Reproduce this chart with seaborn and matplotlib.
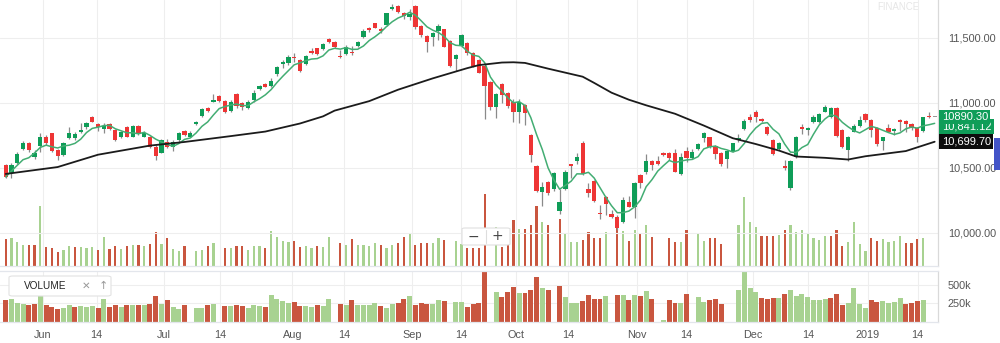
import numpy as np
import pandas as pd
import matplotlib
matplotlib.use("Agg")
import matplotlib.pyplot as plt
import seaborn as sns
from matplotlib.patches import Rectangle, FancyBboxPatch

# ---- daily OHLC (index points) ----
opens = [10521,10460,10536,10644,10690,10583,10667,10736,10767,10637,
 10598,10729,10729,10775,10813,10890,10836,10798,10836,10790,
 10736,10813,10736,10821,10736,10736,10660,10613,10698,10660,
 10713,10783,10736,10836,10898,10960,11006,11052,11016,10939,
 11067,10996,10957,11021,11103,11144,11129,11221,11298,11308,
 11354,11329,11296,11400,11419,11413,11490,11469,11362,11375,
 11392,11436,11503,11572,11611,11565,11598,11723,11744,11692,
 11662,11746,11590,11513,11508,11554,11565,11475,11336,11436,
 11462,11385,11329,11282,11162,10967,11142,11077,11008,10931,
 10983,10752,10513,10316,10393,10334,10170,10337,10527,10552,
 10688,10334,10400,10154,10277,10142,10124,10085,10239,10200,
 10444,10465,10554,10554,10616,10616,10611,10450,10631,10573,
 10644,10731,10734,10670,10611,10567,10623,10713,10798,10893,
 10931,10875,10816,10713,10642,10513,10342,10585,10811,10788,
 10854,10854,10931,10888,10957,10790,10637,10777,10823,10911,
 10867,10803,10706,10803,10785,10867,10862,10834,10803,10783,
 10900,10890.3]
highs = [10525,10536,10621,10706,10698,10637,10767,10752,10770,10644,
 10698,10813,10775,10844,10852,10895,10844,10844,10844,10795,
 10783,10821,10829,10829,10783,10744,10675,10721,10721,10713,
 10775,10790,10783,10860,10960,10967,11067,11059,11021,11021,
 11075,11006,11021,11098,11136,11149,11188,11282,11329,11367,
 11385,11334,11367,11423,11423,11462,11495,11475,11406,11444,
 11439,11477,11565,11580,11615,11585,11692,11757,11752,11700,
 11718,11752,11598,11521,11546,11603,11569,11482,11375,11526,
 11469,11392,11334,11290,11169,11075,11149,11085,11026,11026,
 10990,10760,10521,10393,10400,10470,10334,10483,10529,10611,
 10708,10380,10406,10214,10283,10175,10137,10277,10283,10393,
 10452,10603,10560,10593,10623,10623,10642,10611,10657,10644,
 10690,10777,10739,10675,10619,10637,10693,10757,10875,10911,
 10944,10885,10823,10719,10700,10560,10560,10746,10834,10816,
 10906,10919,10983,10965,10965,10798,10744,10834,10900,10919,
 10875,10811,10739,10836,10803,10875,10867,10842,10811,10893,
 10926,10890.3]
lows = [10420,10421,10529,10637,10621,10567,10621,10675,10621,10560,
 10590,10721,10713,10767,10798,10848,10783,10767,10790,10706,
 10729,10733,10733,10752,10733,10652,10560,10610,10652,10629,
 10698,10744,10733,10829,10890,10929,11006,11006,10923,10929,
 10960,10944,10952,11008,11098,11119,11119,11206,11265,11290,
 11316,11236,11290,11375,11367,11406,11457,11419,11347,11367,
 11367,11431,11495,11546,11572,11534,11590,11713,11688,11642,
 11636,11565,11503,11392,11436,11482,11426,11277,11246,11431,
 11367,11277,11226,10875,10944,10883,10996,10960,10854,10846,
 10829,10547,10316,10206,10290,10323,10144,10329,10419,10529,
 10444,10277,10239,10104,10137,10111,10021,10073,10196,10111,
 10342,10450,10483,10521,10593,10560,10465,10444,10547,10565,
 10637,10700,10649,10567,10516,10496,10619,10700,10790,10854,
 10854,10854,10752,10598,10637,10483,10329,10577,10757,10752,
 10842,10842,10926,10880,10739,10654,10552,10773,10816,10854,
 10739,10670,10637,10773,10752,10783,10777,10790,10696,10777,
 10880,10890.3]
closes = [10429,10521,10606,10690,10637,10613,10736,10690,10629,10590,
 10690,10767,10760,10790,10844,10852,10813,10821,10798,10713,
 10775,10736,10821,10760,10767,10660,10590,10713,10660,10698,
 10767,10752,10767,10852,10952,10936,11021,11013,10931,11008,
 10975,10965,11008,11077,11129,11123,11167,11277,11316,11354,
 11344,11242,11359,11380,11372,11449,11465,11426,11349,11431,
 11380,11469,11552,11559,11577,11554,11688,11738,11700,11669,
 11682,11580,11521,11469,11539,11590,11431,11282,11367,11521,
 11380,11282,11231,11129,10967,11065,11059,10975,10931,11008,
 10919,10598,10324,10350,10303,10457,10239,10470,10513,10585,
 10452,10303,10247,10142,10221,10124,10034,10252,10200,10385,
 10380,10552,10521,10529,10598,10577,10470,10580,10573,10619,
 10683,10770,10657,10603,10527,10629,10688,10726,10860,10867,
 10888,10862,10757,10603,10693,10496,10552,10739,10796,10808,
 10893,10911,10969,10957,10746,10662,10739,10823,10867,10870,
 10790,10680,10734,10777,10798,10850,10836,10803,10734,10888,
 10890.3,10890.3]

# ---- volume, thousands of shares (0 = no print) ----
volume_panel = [295,304,259,236,227,236,373,222,204,168,
 181,222,204,213,195,209,181,304,195,222,
 195,222,231,231,222,240,350,240,295,204,
 177,222,0,181,190,222,240,0,213,213,
 222,213,181,227,209,204,363,313,281,250,
 268,213,213,204,222,213,304,0,240,227,
 291,227,227,227,250,213,186,240,250,309,
 350,227,250,245,240,291,281,0,272,272,
 204,240,250,682,0,409,341,409,477,386,
 386,432,605,454,432,0,486,341,259,259,
 281,359,304,304,350,0,359,359,295,368,
 350,418,304,0,22,295,259,250,377,0,
 341,268,295,304,240,0,0,432,682,454,
 409,318,309,318,318,377,432,350,377,341,
 295,295,309,318,377,227,259,454,240,181,
 295,272,286,259,272,318,240,250,286,295,
 0,0]
volume_main = [257,263,225,203,200,203,574,181,168,136,
 155,187,177,184,168,184,152,273,162,190,
 162,190,197,197,190,209,320,209,266,162,
 139,187,0,146,155,187,216,0,171,171,
 193,187,152,193,187,171,330,279,241,225,
 235,177,187,168,193,184,273,0,219,203,
 257,203,203,187,216,203,168,203,219,279,
 311,203,219,219,219,263,251,0,235,209,
 171,171,171,686,0,368,178,250,441,352,
 352,390,574,422,393,0,447,314,225,231,
 251,327,263,263,320,0,422,330,241,343,
 311,387,273,0,0,263,225,225,346,0,
 304,241,263,263,209,0,0,390,660,415,
 374,289,282,289,295,346,390,327,343,311,
 266,251,289,289,343,187,225,422,209,146,
 263,241,257,225,235,289,216,219,257,263,
 0,0]

# ---- long moving average, sampled by session number ----
slow_ma_session = [0, 9, 16, 25, 31, 39, 45, 51, 55, 57, 63, 68, 74, 80, 82,
                   86, 88, 90, 94, 100, 102, 105, 108, 111, 116, 121, 126,
                   130, 134, 137, 142, 146, 149, 156, 161]
slow_ma_value = [10452, 10505, 10600, 10670, 10698, 10743, 10778, 10840,
                 10895, 10939, 11012, 11100, 11187, 11266, 11289, 11309,
                 11311, 11306, 11262, 11200, 11152, 11077, 11023, 10980,
                 10915, 10824, 10727, 10682, 10632, 10586, 10576, 10563,
                 10588, 10628, 10699.70]

# ---- axis labels ----
date_labels = ["Jun","14","Jul","14","Aug","14","Sep","14","Oct","14",
               "Nov","14","Dec","14","2019","14"]
price_ticks = [10000, 10500, 11000, 11500]
volume_ticks = [250, 500]

# ---- styling ----
UP, DOWN, FLAT = "#0f9d58", "#ee3535", "#9a9a9a"
VOL_UP, VOL_DOWN = "#a8d291", "#c9563f"
GRID = "#eeeeee"
TXT = "#555555"

sns.set_theme(style="white")
plt.rcParams["font.family"] = ["Liberation Sans", "DejaVu Sans"]

n = len(closes)
sessions = np.arange(n)
df = pd.DataFrame({"session": sessions, "open": opens, "high": highs,
                   "low": lows, "close": closes,
                   "vol_main": volume_main, "vol_panel": volume_panel})
prev = df["close"].shift(1).fillna(df["open"])
df["move"] = np.where(df["close"] >= prev, "up", "down")
df["fast_ma"] = df["close"].rolling(5, min_periods=1).mean()
tick_pos = [6.41, 15.77, 27.43, 37.14, 49.67, 58.63, 70.47, 78.96, 88.39,
            97.5, 109.4, 118.0, 129.46, 139.1, 149.4, 158.06]

W, H = 1000, 343
fig = plt.figure(figsize=(W / 100, H / 100), dpi=100)
fig.patch.set_facecolor("white")

def rect(x0, y0, x1, y1):
    return [x0 / W, 1 - y1 / H, (x1 - x0) / W, (y1 - y0) / H]

xlim = (-0.99, 161.58)
main_rect = rect(0, 0, 938, 266)

# volume drawn behind the price pane
axv = fig.add_axes(main_rect, zorder=1)
sns.barplot(data=df, x="session", y="vol_main", hue="move",
            palette={"up": VOL_UP, "down": VOL_DOWN}, native_scale=True,
            width=0.38, dodge=False, legend=False, saturation=1,
            errorbar=None, linewidth=0, ax=axv)
axv.set_ylim(0, 2533)
axv.set_xlim(*xlim)
for p in tick_pos:
    axv.axvline(p, color=GRID, lw=0.8, zorder=0)
axv.set_axis_off()

# price pane
ax = fig.add_axes(main_rect, zorder=2)
ax.patch.set_alpha(0)
ymin, ymax = 11790 - 266 * 7.6923, 11790
for p in price_ticks:
    ax.axhline(p, color=GRID, lw=0.8, zorder=0)

o = df["open"].to_numpy(); c = df["close"].to_numpy()
body_lo = np.minimum(o, c)
body_h = np.maximum(np.abs(c - o), 9)
colors = np.where(c > o, UP, np.where(c < o, DOWN, FLAT))
ax.vlines(sessions, df["low"], df["high"], color="#8a8a8a", lw=0.9, zorder=2)
ax.bar(sessions, body_h, bottom=body_lo, width=0.74, color=colors,
       linewidth=0, zorder=3)

sns.lineplot(x=sessions, y=df["fast_ma"], color="#43ad73", lw=1.1, ax=ax,
             zorder=4)
sns.lineplot(x=slow_ma_session, y=slow_ma_value, color="#1b1b1b", lw=1.3,
             ax=ax, zorder=4)

ax.set_xlim(*xlim)
ax.set_ylim(ymin, ymax)
ax.set_xticks([])
ax.set_xlabel(""); ax.set_ylabel("")
ax.yaxis.tick_right()
ax.set_yticks(price_ticks)
ax.set_yticklabels([f"{p:,.2f}" for p in price_ticks])
ax.tick_params(axis="y", length=0, pad=7, labelsize=7.8, labelcolor=TXT)
for s in ["top", "left"]:
    ax.spines[s].set_visible(False)
ax.spines["right"].set_color("#d9d9d9")
ax.spines["bottom"].set_color("#e3e6ec")
ax.spines["right"].set_linewidth(0.9)
ax.spines["bottom"].set_linewidth(0.9)

# value tags on the price scale (the fast-average tag sits under the close tag)
tr = ax.get_yaxis_transform()
ax.text(1.004, df["fast_ma"].iloc[-1] - 25, f"{df['fast_ma'].iloc[-1]:,.2f}",
        transform=tr, ha="left", va="center", color="white", fontsize=8,
        bbox=dict(boxstyle="square,pad=0.22", fc=UP, ec="none"),
        clip_on=False, zorder=10)
ax.text(1.004, closes[-1], f"{closes[-1]:.2f}", transform=tr, ha="left",
        va="center", color="white", fontsize=8,
        bbox=dict(boxstyle="square,pad=0.22", fc=UP, ec="none"),
        clip_on=False, zorder=11)
ax.text(1.004, slow_ma_value[-1], f"{slow_ma_value[-1]:,.2f}", transform=tr,
        ha="left", va="center", color="white", fontsize=8,
        bbox=dict(boxstyle="square,pad=0.22", fc="#0d0d0d", ec="none"),
        clip_on=False, zorder=11)

# volume sub-pane
axs = fig.add_axes(rect(0, 271, 938, 321.6), zorder=2)
sns.barplot(data=df, x="session", y="vol_panel", hue="move",
            palette={"up": VOL_UP, "down": VOL_DOWN}, native_scale=True,
            width=0.86, dodge=False, legend=False, saturation=1,
            errorbar=None, linewidth=0, ax=axs)
axs.set_xlim(*xlim)
axs.set_ylim(0, 691)
for p in volume_ticks:
    axs.axhline(p, color=GRID, lw=0.8, zorder=0)
for p in tick_pos:
    axs.axvline(p, color=GRID, lw=0.8, zorder=0)
axs.set_xlabel(""); axs.set_ylabel("")
axs.set_xticks(tick_pos)
axs.set_xticklabels(date_labels)
axs.yaxis.tick_right()
axs.set_yticks(volume_ticks)
axs.set_yticklabels([f"{v}k" for v in volume_ticks])
axs.tick_params(axis="y", length=0, pad=7, labelsize=7.8, labelcolor=TXT)
axs.tick_params(axis="x", length=0, pad=6, labelsize=7.8, labelcolor=TXT)
axs.spines["left"].set_visible(False)
for s in ["top", "bottom", "right"]:
    axs.spines[s].set_color("#e3e6ec")
    axs.spines[s].set_linewidth(0.9)
axs.spines["right"].set_color("#d9d9d9")

# indicator chip
fig.patches.append(FancyBboxPatch((9 / W, 1 - 296 / H), 102 / W, 20 / H,
                   boxstyle="round,pad=0,rounding_size=0.004",
                   transform=fig.transFigure, fc="white", ec="#e2e2e2",
                   lw=0.8, zorder=5))
fig.text(24 / W, 1 - 286 / H, "VOLUME", fontsize=7.2, color="#222222",
         va="center", zorder=6)
fig.text(86 / W, 1 - 286 / H, "\u2715", fontsize=7.5, color="#999999",
         va="center", ha="center", family=["DejaVu Sans"], zorder=6)
fig.text(103 / W, 1 - 286 / H, "\u2191", fontsize=8, color="#999999",
         va="center", ha="center", family=["DejaVu Sans"], zorder=6)

# zoom buttons
fig.patches.append(FancyBboxPatch((462 / W, 1 - 245 / H), 48 / W, 17 / H,
                   boxstyle="round,pad=0,rounding_size=0.003",
                   transform=fig.transFigure, fc="white", ec="#e0e0e0",
                   lw=0.8, zorder=5))
fig.lines.append(plt.Line2D([486 / W, 486 / W], [1 - 243 / H, 1 - 230 / H],
                 transform=fig.transFigure, color="#dddddd", lw=0.8,
                 zorder=6))
fig.text(473 / W, 1 - 236.5 / H, "\u2212", fontsize=10, color="#444444",
         ha="center", va="center", family=["DejaVu Sans"], zorder=6)
fig.text(497.5 / W, 1 - 236.5 / H, "+", fontsize=10, color="#444444",
         ha="center", va="center", family=["DejaVu Sans"], zorder=6)

# right-edge tab and watermark
fig.patches.append(Rectangle((994 / W, 1 - 170 / H), 6 / W, 32 / H,
                   transform=fig.transFigure, fc="#4354c8", ec="none",
                   zorder=5))
fig.text(898 / W, 1 - 1.5 / H, "FINANCE", fontsize=7, color="#e6e6e6",
         ha="center", va="top", zorder=0)

fig.savefig("out.png", dpi=100, facecolor="white")
